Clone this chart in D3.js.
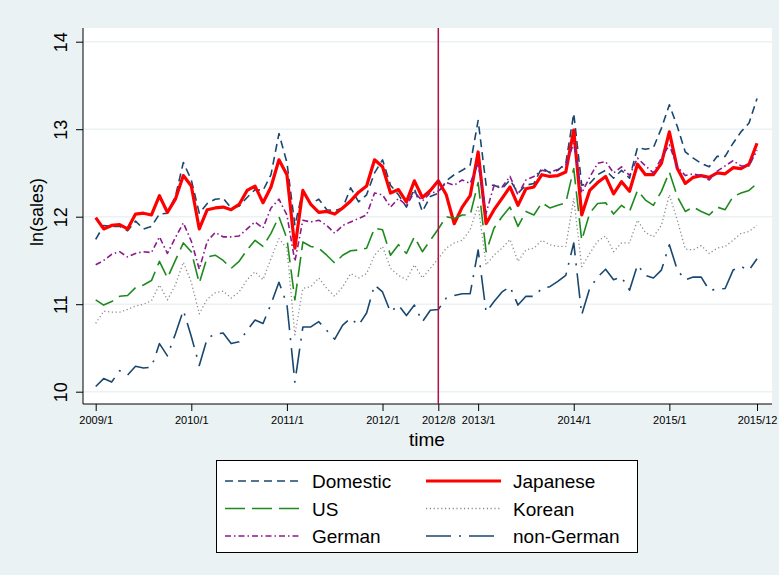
<!DOCTYPE html>
<html>
<head>
<meta charset="utf-8">
<title>ln(sales) by origin</title>
<script src="https://d3js.org/d3.v7.min.js"></script>
<style>
  body { margin: 0; background: #eaf2f3; }
  svg { display: block; font-family: "Liberation Sans", Arial, Helvetica, sans-serif; }
</style>
</head>
<body>
<svg width="779" height="575"></svg>
<script>
// monthly ln(sales), 2009/1 .. 2015/12 (84 months)
var domestic = [11.74,11.90,11.89,11.89,11.84,11.95,11.86,11.89,12.03,12.04,12.23,12.62,
  12.42,12.04,12.15,12.20,12.21,12.10,12.12,12.22,12.31,12.30,12.48,12.95,
  12.62,11.90,12.30,12.15,12.20,12.08,12.07,12.10,12.33,12.17,12.25,12.50,
  12.65,12.36,12.25,12.11,12.32,12.06,12.23,12.27,12.41,12.48,12.53,12.59,
  13.10,12.36,12.36,12.32,12.42,12.27,12.36,12.38,12.56,12.50,12.53,12.61,
  13.18,12.36,12.38,12.48,12.53,12.44,12.53,12.44,12.79,12.77,12.79,13.01,
  13.28,13.03,12.74,12.67,12.61,12.57,12.69,12.69,12.84,12.97,13.07,13.35];
var japanese = [11.99,11.86,11.90,11.91,11.86,12.03,12.04,12.02,12.24,12.05,12.20,12.47,
  12.35,11.86,12.08,12.10,12.11,12.08,12.14,12.30,12.35,12.16,12.34,12.65,
  12.48,11.64,12.30,12.14,12.05,12.06,12.03,12.10,12.18,12.28,12.35,12.65,
  12.57,12.27,12.31,12.17,12.41,12.22,12.30,12.41,12.25,11.92,12.11,12.24,
  12.74,11.92,12.08,12.21,12.34,12.13,12.32,12.34,12.48,12.46,12.47,12.51,
  12.99,12.02,12.30,12.39,12.46,12.26,12.40,12.29,12.60,12.48,12.48,12.61,
  12.97,12.55,12.38,12.45,12.47,12.45,12.50,12.49,12.56,12.55,12.60,12.84];
var us = [11.05,10.99,11.03,11.09,11.10,11.19,11.22,11.27,11.49,11.30,11.50,11.70,
  11.60,11.24,11.54,11.56,11.50,11.41,11.49,11.62,11.73,11.66,11.81,12.00,
  11.75,11.05,11.71,11.66,11.64,11.56,11.47,11.56,11.61,11.62,11.64,11.87,
  11.85,11.56,11.68,11.58,11.77,11.60,11.73,11.86,12.00,11.98,12.02,12.02,
  12.39,11.60,11.87,12.00,12.11,11.89,12.06,12.02,12.16,12.10,12.13,12.16,
  12.55,11.73,12.04,12.15,12.16,12.03,12.13,12.06,12.30,12.19,12.13,12.29,
  12.51,12.23,12.06,12.11,12.06,12.02,12.11,12.08,12.23,12.27,12.30,12.38];
var korean = [10.78,10.92,10.91,10.91,10.94,10.98,11.00,11.04,11.22,11.05,11.22,11.48,
  11.25,10.89,11.06,11.13,11.15,11.07,11.14,11.28,11.37,11.28,11.52,11.75,
  11.64,10.65,11.18,11.20,11.30,11.18,11.09,11.20,11.35,11.30,11.35,11.56,
  11.66,11.41,11.33,11.28,11.45,11.30,11.41,11.52,11.64,11.70,11.73,11.85,
  12.13,11.45,11.56,11.64,11.74,11.49,11.62,11.64,11.73,11.68,11.66,11.66,
  12.21,11.43,11.58,11.72,11.78,11.60,11.70,11.70,11.96,11.82,11.77,11.90,
  12.25,11.96,11.63,11.62,11.67,11.58,11.64,11.66,11.73,11.81,11.83,11.90];
var german = [11.45,11.50,11.57,11.60,11.54,11.58,11.60,11.59,11.77,11.58,11.76,11.93,
  11.72,11.40,11.72,11.82,11.77,11.77,11.78,11.86,11.94,11.87,12.10,12.20,
  12.02,11.49,11.96,11.94,11.96,11.90,11.81,11.90,11.94,11.98,12.02,12.27,
  12.25,12.11,12.21,12.13,12.28,12.18,12.27,12.29,12.39,12.36,12.42,12.38,
  12.61,12.04,12.36,12.34,12.46,12.25,12.42,12.46,12.53,12.51,12.54,12.59,
  12.84,12.27,12.45,12.61,12.63,12.50,12.57,12.47,12.67,12.58,12.50,12.67,
  12.82,12.57,12.47,12.49,12.47,12.42,12.52,12.58,12.64,12.58,12.58,12.76];
var nonGerman = [10.06,10.15,10.11,10.24,10.19,10.29,10.27,10.28,10.55,10.41,10.66,10.93,
  10.63,10.30,10.61,10.66,10.67,10.55,10.57,10.70,10.82,10.78,11.00,11.25,
  11.00,10.11,10.74,10.74,10.80,10.70,10.60,10.76,10.84,10.76,10.90,11.22,
  11.14,10.91,10.99,10.87,10.99,10.80,10.93,10.94,11.07,11.10,11.12,11.12,
  11.62,10.91,11.03,11.14,11.20,10.99,11.09,11.09,11.18,11.20,11.26,11.33,
  11.70,10.88,11.18,11.31,11.40,11.28,11.31,11.16,11.45,11.33,11.30,11.39,
  11.68,11.39,11.28,11.31,11.31,11.16,11.17,11.18,11.39,11.43,11.39,11.52];

var seriesNames = ["Domestic", "Japanese", "US", "Korean", "German", "non-German"];
var xTickMonths = [0, 12, 24, 36, 43, 48, 60, 72, 83];
var xTickLabels = ["2009/1", "2010/1", "2011/1", "2012/1", "2012/8", "2013/1", "2014/1", "2015/1", "2015/12"];
var yTicks = [10, 11, 12, 13, 14];
var breakMonth = 43; // 2012/8

var allSeries = [domestic, japanese, us, korean, german, nonGerman];
var styles = [
  {color: "#1a476f", width: 1.6, dash: "8,5"},
  {color: "#ff0000", width: 3.2, dash: null},
  {color: "#1e8a1e", width: 1.6, dash: "20,7"},
  {color: "#8a8a8a", width: 1.3, dash: "1.2,2.6"},
  {color: "#8b1a8b", width: 1.6, dash: "6,3,1.5,3"},
  {color: "#1a476f", width: 1.6, dash: "25,8,2,8"}
];

var svg = d3.select("svg");
var plot = {left: 83, right: 772, top: 28, bottom: 404};

svg.append("rect").attr("width", 779).attr("height", 575).attr("fill", "#eaf2f3");
svg.append("rect")
  .attr("x", plot.left).attr("y", plot.top)
  .attr("width", plot.right - plot.left).attr("height", plot.bottom - plot.top)
  .attr("fill", "#fff");

var x = d3.scaleLinear().domain([0, 83]).range([95.7, 757]);
var y = d3.scaleLinear().domain([10, 14]).range([391.7, 41.7]);

// grid
svg.append("g").selectAll("line").data(yTicks).enter().append("line")
  .attr("x1", plot.left).attr("x2", plot.right)
  .attr("y1", function(d) { return y(d); }).attr("y2", function(d) { return y(d); })
  .attr("stroke", "#eaf2f3").attr("stroke-width", 1.5);

// y axis
var yAxis = d3.axisLeft(y).tickValues(yTicks).tickSize(7).tickFormat(d3.format("d"));
var gy = svg.append("g").attr("transform", "translate(" + plot.left + ",0)").call(yAxis);
gy.select(".domain").attr("d", "M0," + plot.top + "V" + plot.bottom).attr("stroke", "#000");
gy.selectAll(".tick line").attr("stroke", "#000");
gy.selectAll(".tick text")
  .attr("x", null).attr("dy", null)
  .attr("transform", "translate(-16,0) rotate(-90)")
  .attr("text-anchor", "middle")
  .attr("font-size", 18).attr("fill", "#000");

svg.append("text")
  .attr("transform", "translate(43,212) rotate(-90)")
  .attr("text-anchor", "middle").attr("font-size", 18)
  .text("ln(sales)");

// x axis
var xAxis = d3.axisBottom(x).tickValues(xTickMonths).tickSize(7)
  .tickFormat(function(d, i) { return xTickLabels[i]; });
var gx = svg.append("g").attr("transform", "translate(0," + plot.bottom + ")").call(xAxis);
gx.select(".domain").attr("d", "M" + plot.left + ",0H" + plot.right).attr("stroke", "#000");
gx.selectAll(".tick line").attr("stroke", "#000");
gx.selectAll(".tick text").attr("y", 12).attr("dy", "0.71em")
  .attr("font-size", 11).attr("fill", "#000");

svg.append("text")
  .attr("x", 427).attr("y", 446)
  .attr("text-anchor", "middle").attr("font-size", 19)
  .text("time");

// series
var line = d3.line()
  .x(function(d, i) { return x(i); })
  .y(function(d) { return y(d); });

svg.append("g").selectAll("path").data(allSeries).enter().append("path")
  .attr("d", line)
  .attr("fill", "none")
  .attr("stroke", function(d, i) { return styles[i].color; })
  .attr("stroke-width", function(d, i) { return styles[i].width; })
  .attr("stroke-dasharray", function(d, i) { return styles[i].dash; })
  .attr("stroke-linejoin", "round");

// break line at 2012/8
svg.append("line")
  .attr("x1", x(breakMonth)).attr("x2", x(breakMonth))
  .attr("y1", plot.top).attr("y2", plot.bottom)
  .attr("stroke", "#b3123f").attr("stroke-width", 1.5);

// legend
var legend = svg.append("g");
legend.append("rect")
  .attr("x", 216.5).attr("y", 460.5).attr("width", 421).attr("height", 92)
  .attr("fill", "#fff").attr("stroke", "#000").attr("stroke-width", 1);

var item = legend.selectAll(".item").data(seriesNames).enter().append("g")
  .attr("class", "item")
  .attr("transform", function(d, i) {
    return "translate(" + (i % 2 === 0 ? 225 : 426) + "," + (481 + Math.floor(i / 2) * 27.5) + ")";
  });
item.append("line")
  .attr("x1", 0).attr("x2", 75).attr("y1", 0).attr("y2", 0)
  .attr("stroke", function(d, i) { return styles[i].color; })
  .attr("stroke-width", function(d, i) { return styles[i].width; })
  .attr("stroke-dasharray", function(d, i) { return styles[i].dash; });
item.append("text")
  .attr("x", 87).attr("y", 7)
  .attr("font-size", 19)
  .text(function(d) { return d; });
</script>
</body>
</html>
